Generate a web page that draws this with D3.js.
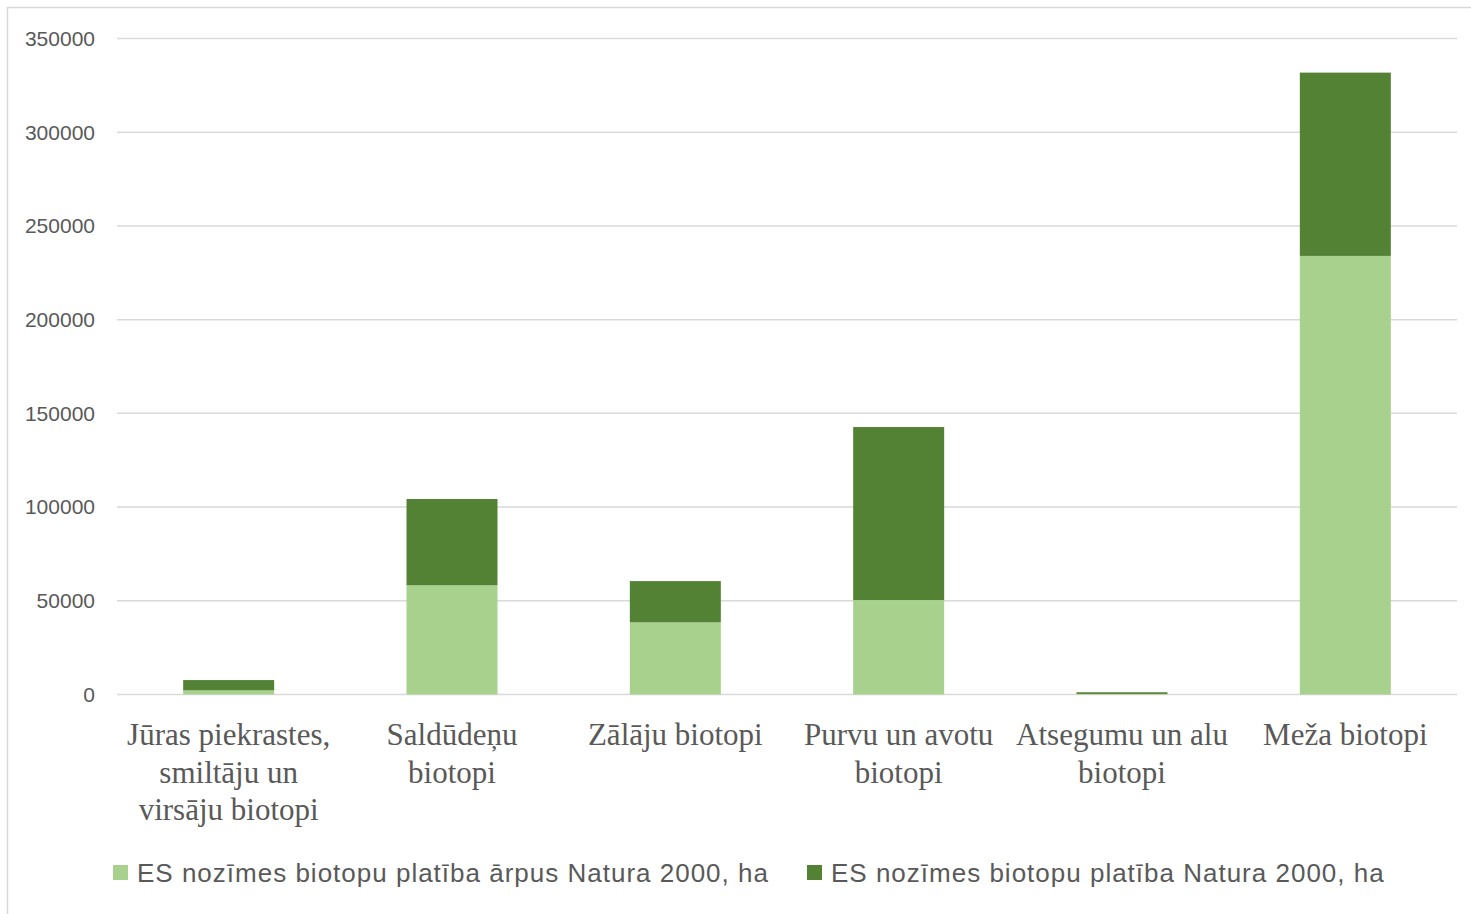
<!DOCTYPE html>
<html>
<head>
<meta charset="utf-8">
<script src="https://cdn.jsdelivr.net/npm/d3@7"></script>
<style>
  body { margin: 0; background: #fff; }
</style>
</head>
<body>
<script>
'use strict';

// chart values
const categories = [
  ["Jūras piekrastes,", "smiltāju un", "virsāju biotopi"],
  ["Saldūdeņu", "biotopi"],
  ["Zālāju biotopi"],
  ["Purvu un avotu", "biotopi"],
  ["Atsegumu un alu", "biotopi"],
  ["Meža biotopi"]
];
const outsideNatura = [2200, 58300, 38500, 50400, 300, 234000];
const insideNatura = [5500, 46000, 22000, 92300, 900, 97800];
const seriesNames = [
  "ES nozīmes biotopu platība ārpus Natura 2000, ha",
  "ES nozīmes biotopu platība Natura 2000, ha"
];
const yTicks = [0, 50000, 100000, 150000, 200000, 250000, 300000, 350000];

const colors = ["#A9D18E", "#548235"];

(function() {
  const width = 1471, height = 914;
  const plot = { left: 117, right: 1457, top: 38.5, bottom: 694.5 };

  let svg = d3.select("body").append("svg")
    .attr("width", width)
    .attr("height", height);

  // chart frame
  svg.append("rect")
    .attr("x", 7.5).attr("y", 7.5)
    .attr("width", width + 10).attr("height", height + 10)
    .attr("fill", "#fff")
    .attr("stroke", "#d9d9d9")
    .attr("stroke-width", 1.5);

  let x = d3.scaleBand()
    .domain(d3.range(categories.length))
    .range([plot.left, plot.right]);

  let y = d3.scaleLinear()
    .domain([0, 350000])
    .range([plot.bottom, plot.top]);

  // gridlines
  svg.append("g")
    .selectAll("line")
    .data(yTicks)
    .enter().append("line")
      .attr("x1", plot.left).attr("x2", plot.right)
      .attr("y1", (d) => y(d)).attr("y2", (d) => y(d))
      .attr("stroke", "#d9d9d9")
      .attr("stroke-width", 1.5);

  // y axis labels
  svg.append("g")
    .selectAll("text")
    .data(yTicks)
    .enter().append("text")
      .attr("x", 95)
      .attr("y", (d) => y(d))
      .attr("dy", "0.35em")
      .attr("text-anchor", "end")
      .style("font-family", "'Liberation Sans', Arial, sans-serif")
      .style("font-size", "21px")
      .style("fill", "#595959")
      .text((d) => d);

  // stacked bars
  let rows = categories.map((c, i) => ({ i: i, a: outsideNatura[i], b: insideNatura[i] }));
  let stack = d3.stack().keys(["a", "b"])(rows);
  let barW = 91;

  svg.append("g")
    .selectAll("g")
    .data(stack)
    .enter().append("g")
      .attr("fill", (d, k) => colors[k])
    .selectAll("rect")
    .data((d) => d)
    .enter().append("rect")
      .attr("x", (d) => x(d.data.i) + x.bandwidth() / 2 - barW / 2)
      .attr("width", barW)
      .attr("y", (d) => y(d[1]))
      .attr("height", (d) => y(d[0]) - y(d[1]));

  // category labels
  let labels = svg.append("g")
    .selectAll("text")
    .data(categories)
    .enter().append("text")
      .attr("x", (d, i) => x(i) + x.bandwidth() / 2)
      .attr("y", 745)
      .attr("text-anchor", "middle")
      .style("font-family", "'Liberation Serif', 'Times New Roman', serif")
      .style("font-size", "31px")
      .style("fill", "#595959");

  labels.selectAll("tspan")
    .data((d) => d)
    .enter().append("tspan")
      .attr("x", function() { return d3.select(this.parentNode).attr("x"); })
      .attr("dy", (d, j) => j === 0 ? 0 : 37.5)
      .text((d) => d);

  // legend
  let legendX = [113, 807];
  let legend = svg.append("g")
    .selectAll("g")
    .data(seriesNames)
    .enter().append("g")
      .attr("transform", (d, k) => "translate(" + legendX[k] + ",865)");

  legend.append("rect")
    .attr("width", 15).attr("height", 15)
    .attr("fill", (d, k) => colors[k]);

  legend.append("text")
    .attr("x", 24)
    .attr("y", 17)
    .style("font-family", "'Liberation Sans', Arial, sans-serif")
    .style("font-size", "26px")
    .style("letter-spacing", "1px")
    .style("fill", "#595959")
    .text((d) => d);
})();
</script>
</body>
</html>
